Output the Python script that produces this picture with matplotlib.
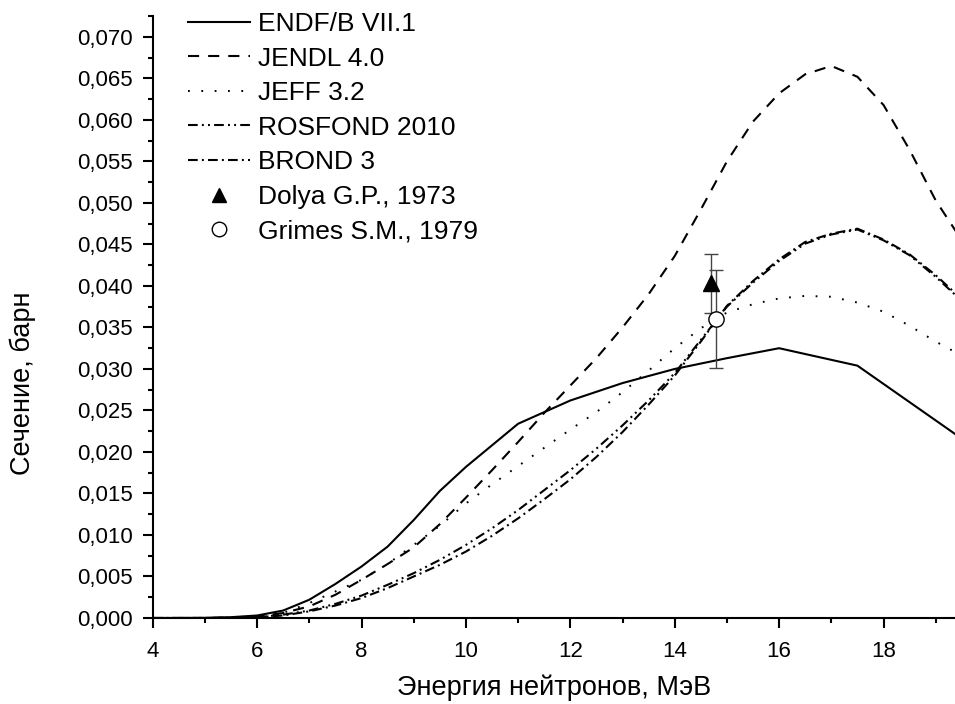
import matplotlib
matplotlib.use("Agg")
import matplotlib.pyplot as plt
from matplotlib.ticker import MultipleLocator, FuncFormatter

plt.rcParams["font.family"] = ["Liberation Sans", "DejaVu Sans"]
plt.rcParams["lines.scale_dashes"] = False

# Evaluated cross sections, barn
e_endf = [4, 5, 5.5, 6, 6.5, 7, 7.5, 8, 8.5, 9, 9.5, 10, 11, 12, 13, 14, 15, 16, 17.5, 20]
endf = [0, 0.00002, 0.0001, 0.0003, 0.0009, 0.0022, 0.0041, 0.0062, 0.0086, 0.0118,
        0.0153, 0.0182, 0.0234, 0.0262, 0.0283, 0.0300, 0.0313, 0.0325, 0.0304, 0.0194]

e_grid = [4, 5, 5.5, 6, 6.5, 7, 7.5, 8, 8.5, 9, 9.5, 10, 10.5, 11, 11.5, 12, 12.5,
          13, 13.5, 14, 14.5, 15, 15.5, 16, 16.5, 17, 17.5, 18, 18.5, 19, 19.5, 20]
jendl = [0, 0, 0.00005, 0.0002, 0.0006, 0.0014, 0.0028, 0.0046, 0.0065, 0.0085,
         0.0113, 0.0145, 0.0178, 0.0212, 0.0247, 0.0280, 0.0313, 0.0350, 0.0390,
         0.0436, 0.0492, 0.0550, 0.0598, 0.0632, 0.0655, 0.0665, 0.0652, 0.0618,
         0.0564, 0.0503, 0.0455, 0.0400]
jeff = [0, 0, 0.00003, 0.0001, 0.0006, 0.0018, 0.0032, 0.0046, 0.0065, 0.0088,
        0.0111, 0.0138, 0.0161, 0.0183, 0.0205, 0.0227, 0.0248, 0.0272, 0.0298,
        0.0325, 0.0349, 0.0368, 0.0378, 0.0385, 0.0388, 0.0387, 0.0380, 0.0369,
        0.0352, 0.0333, 0.0316, 0.0298]
rosfond = [0, 0, 0.00002, 0.0001, 0.0004, 0.0009, 0.0017, 0.0027, 0.0040, 0.0054,
           0.0070, 0.0088, 0.0108, 0.0130, 0.0154, 0.0178, 0.0204, 0.0232, 0.0262,
           0.0295, 0.0335, 0.0375, 0.0404, 0.0430, 0.0451, 0.0462, 0.0468, 0.0455,
           0.0437, 0.0411, 0.0382, 0.0350]
brond = [0, 0, 0.00002, 0.0001, 0.0003, 0.0008, 0.0015, 0.0024, 0.0036, 0.0050,
         0.0064, 0.0080, 0.0099, 0.0120, 0.0143, 0.0167, 0.0194, 0.0224, 0.0257,
         0.0292, 0.0333, 0.0376, 0.0406, 0.0432, 0.0453, 0.0463, 0.0469, 0.0456,
         0.0438, 0.0413, 0.0384, 0.0352]

# Measurements near 14.7 MeV
dolya_e, dolya_s, dolya_err = [14.7], [0.0403], [0.0035]
grimes_e, grimes_s, grimes_err = [14.8], [0.0360], [0.0059]

fig = plt.figure(figsize=(9.55, 7.04), dpi=100)
ax = fig.add_axes([152.7 / 955, 86 / 704, (955 - 152.7) / 955, (618 - 16) / 704])

ax.plot(e_endf, endf, color="black", lw=1.5, ls="-", label="ENDF/B VII.1")
ax.plot(e_grid, jendl, color="black", lw=1.5, ls=(0, (8, 6.5)), label="JENDL 4.0")
ax.plot(e_grid, jeff, color="black", lw=1.4, ls=(0, (1.3, 8.3)), label="JEFF 3.2")
ax.plot(e_grid, rosfond, color="black", lw=1.5, ls=(0, (7, 3, 1.4, 3, 1.4, 3)),
        label="ROSFOND 2010")
ax.plot(e_grid, brond, color="black", lw=1.5, ls=(0, (7, 3, 1.4, 3)), label="BROND 3")

# error bars first, markers on top of them
ax.errorbar(dolya_e, dolya_s, yerr=dolya_err, fmt="none", ecolor="#444444",
            elinewidth=1, capsize=4.7, capthick=1)
ax.errorbar(grimes_e, grimes_s, yerr=grimes_err, fmt="none", ecolor="#444444",
            elinewidth=1, capsize=4.7, capthick=1)
ax.plot(dolya_e, dolya_s, "^", color="black", ms=11, ls="none", label="Dolya G.P., 1973")
ax.plot(grimes_e, grimes_s, "o", mfc="white", mec="black", mew=1, ms=11, ls="none",
        label="Grimes S.M., 1979")

ax.set_xlim(4, 4 + (955 - 152.7) / 52.2)
ax.set_ylim(0, 0.07252)

ax.xaxis.set_major_locator(MultipleLocator(2))
ax.xaxis.set_minor_locator(MultipleLocator(1))
ax.yaxis.set_major_locator(MultipleLocator(0.005))
ax.yaxis.set_minor_locator(MultipleLocator(0.0025))
ax.yaxis.set_major_formatter(FuncFormatter(lambda v, p: f"{v:.3f}".replace(".", ",")))

for side in ["top", "right"]:
    ax.spines[side].set_visible(False)
for side in ["left", "bottom"]:
    ax.spines[side].set_linewidth(1.5)

ax.tick_params(which="major", direction="out", length=7.5, width=1.5, labelsize=16)
ax.tick_params(which="minor", direction="out", length=3.6, width=1.5)
ax.tick_params(axis="x", which="major", pad=9.4)
ax.tick_params(axis="y", which="major", pad=7)

ax.set_xlabel("Энергия нейтронов, МэВ", fontsize=19.5, labelpad=9)
ax.set_ylabel("Сечение, барн", fontsize=19.5)
ax.yaxis.set_label_coords(-0.1455, 0.39)

handles, labels = ax.get_legend_handles_labels()
leg = fig.legend(handles, labels, loc="upper left", bbox_to_anchor=(188 / 955, 1 - 12 / 704),
                 frameon=False, fontsize=19, handlelength=2.35, handletextpad=0.3,
                 labelspacing=0.4, borderpad=0, borderaxespad=0, markerscale=0.95)

fig.savefig("out.png", dpi=100)
